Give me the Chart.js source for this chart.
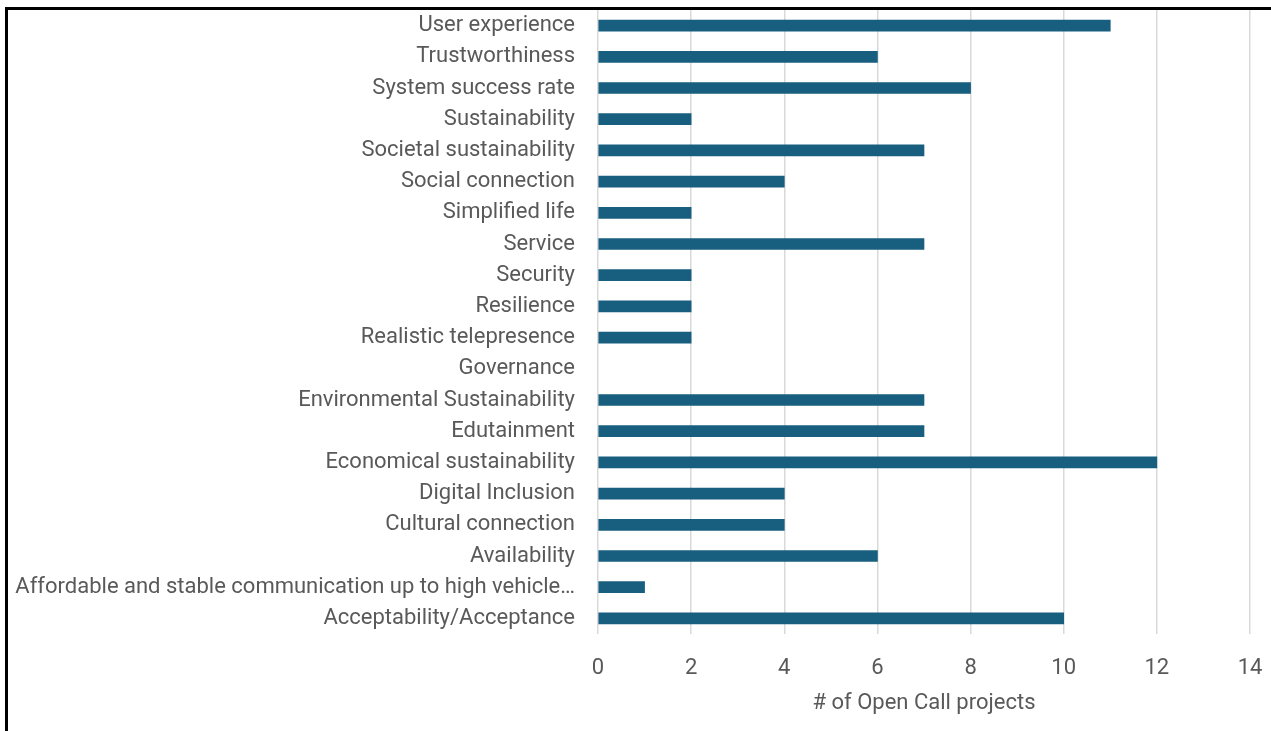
<!DOCTYPE html>
<html>
<head>
<meta charset="utf-8">
<script src="https://cdn.jsdelivr.net/npm/chart.js@4"></script>
<style>
  html, body { margin: 0; padding: 0; background: #fff; }
  #wrap { position: relative; width: 1271px; height: 731px; overflow: hidden; }
  #outcomes-chart { display: block; }
  #frame { position: absolute; left: 5px; top: 7px; width: 1400px; height: 900px;
           border-top: 3px solid #000; border-left: 3px solid #000; pointer-events: none; }
</style>
</head>
<body>
<div id="wrap">
  <canvas id="outcomes-chart" width="1271" height="731"></canvas>
  <div id="frame"></div>
</div>
<script>
const categories = [
  'User experience',
  'Trustworthiness',
  'System success rate',
  'Sustainability',
  'Societal sustainability',
  'Social connection',
  'Simplified life',
  'Service',
  'Security',
  'Resilience',
  'Realistic telepresence',
  'Governance',
  'Environmental Sustainability',
  'Edutainment',
  'Economical sustainability',
  'Digital Inclusion',
  'Cultural connection',
  'Availability',
  'Affordable and stable communication up to high vehicle…',
  'Acceptability/Acceptance'
];
const projectCounts = [11, 6, 8, 2, 7, 4, 2, 7, 2, 2, 2, 0, 7, 7, 12, 4, 4, 6, 1, 10];
const xTicks = [0, 2, 4, 6, 8, 10, 12, 14];
const xTitle = '# of Open Call projects';

const barColor = '#175e7f';
const textColor = '#595959';
const font = { family: 'Roboto', size: 22 };

function main() {
  const canvas = document.getElementById('outcomes-chart');
  new Chart(canvas, {
    type: 'bar',
    data: {
      labels: categories,
      datasets: [{
        data: projectCounts,
        // zero-length bars would otherwise leave a hairline on the axis
        backgroundColor: ctx => (ctx.raw === 0 ? 'rgba(0,0,0,0)' : barColor),
        borderWidth: 0,
        barThickness: 11
      }]
    },
    options: {
      indexAxis: 'y',
      responsive: false,
      animation: false,
      layout: { padding: { top: 10, right: 21, left: 0, bottom: 0 } },
      plugins: { legend: { display: false }, tooltip: { enabled: false } },
      scales: {
        x: {
          min: 0,
          max: 14,
          afterBuildTicks: axis => { axis.ticks = xTicks.map(v => ({ value: v })); },
          afterFit: axis => {
            axis.height = 97;
            axis.paddingLeft = 0;
            axis.paddingRight = 0;
          },
          grid: { color: '#d9d9d9', lineWidth: 1.5, drawTicks: false },
          border: { display: false },
          ticks: { color: textColor, font, padding: 21 },
          title: { display: true, text: xTitle, color: textColor, font, padding: { top: 0, bottom: 14 } }
        },
        y: {
          afterFit: axis => {
            axis.width = 598;
            axis.paddingTop = 0;
            axis.paddingBottom = 0;
          },
          grid: { display: false, drawTicks: false },
          border: { display: false },
          ticks: { color: textColor, font, padding: 23, autoSkip: false }
        }
      }
    }
  });
}

main();
</script>
</body>
</html>
